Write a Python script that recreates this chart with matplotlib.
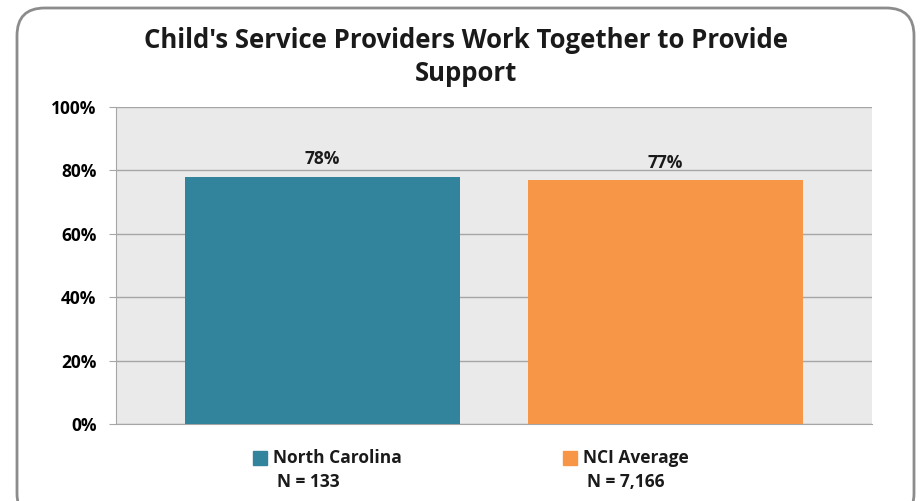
import matplotlib.pyplot as plt
from matplotlib.patches import FancyBboxPatch

categories = ['North Carolina', 'NCI Average']
sample_sizes = ['N = 133', 'N = 7,166']
values = [78, 77]
colors = ['#31849B', '#F79646']
yticks = [0, 20, 40, 60, 80, 100]

plt.rcParams['font.family'] = ['Open Sans', 'DejaVu Sans']

fig = plt.figure(figsize=(9.21, 5.01), dpi=100)
W, H = 921, 501

# rounded chart frame
frame = FancyBboxPatch((17 / W, -20 / H), 897 / W, 513 / H,
                       boxstyle='round,pad=0,rounding_size=0.03',
                       transform=fig.transFigure, facecolor='white',
                       edgecolor='#8c8c8c', linewidth=2, mutation_aspect=W / H,
                       zorder=-5)
fig.patches.append(frame)

ax = fig.add_axes([116 / W, 1 - 424 / H, 756 / W, 317 / H])
ax.set_facecolor('#EAEAEA')

x = list(range(len(categories)))
ax.bar(x, values, width=0.80, color=colors, zorder=3)
for xi, v in zip(x, values):
    ax.text(xi, v + 2.6, f'{v}%', ha='center', va='bottom',
            fontsize=12.5, fontweight='bold', color='#1a1a1a')

ax.set_xlim(-0.602, 1.602)
ax.set_ylim(0, 100)
ax.set_yticks(yticks)
ax.set_yticklabels([f'{t}%' for t in yticks], fontsize=12.5, fontweight='bold')
ax.set_xticks([])
ax.grid(axis='y', color='#a6a6a6', linewidth=1, zorder=0)
ax.set_axisbelow(True)
ax.tick_params(axis='y', length=5, color='#a6a6a6', pad=9)
for s in ['top', 'right']:
    ax.spines[s].set_visible(False)
for s in ['left', 'bottom']:
    ax.spines[s].set_color('#a6a6a6')

# category labels with colour keys under each bar
key_offsets = [-0.181, -0.277]
tr = ax.get_xaxis_transform()
for xi, name, n, c, k in zip(x, categories, sample_sizes, colors, key_offsets):
    ax.plot([xi + k], [-0.108], marker='s', markersize=10, color=c,
            transform=tr, clip_on=False)
    ax.text(xi + k + 0.036, -0.108, name, transform=tr, ha='left', va='center',
            fontsize=12.5, fontweight='bold', color='#1a1a1a')
    ax.text(xi + k + 0.048, -0.183, n, transform=tr, ha='left', va='center',
            fontsize=12.5, fontweight='bold', color='#1a1a1a')

fig.text(466 / W, 1 - 57 / H,
         "Child's Service Providers Work Together to Provide\nSupport",
         ha='center', va='center', fontsize=18.5, fontweight='bold',
         color='#1a1a1a', linespacing=1.3)

fig.savefig('out.png', dpi=100)
